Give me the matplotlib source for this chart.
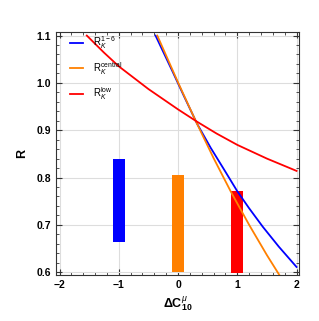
import matplotlib
matplotlib.use("Agg")
import matplotlib.pyplot as plt
from matplotlib.ticker import MultipleLocator

plt.rcParams['font.family'] = ['Liberation Sans', 'DejaVu Sans']
plt.rcParams['mathtext.fontset'] = 'custom'
plt.rcParams['mathtext.rm'] = 'Liberation Sans'
plt.rcParams['mathtext.it'] = 'Liberation Sans:italic'
plt.rcParams['mathtext.bf'] = 'Liberation Sans:bold'

# curve samples
blue_x = [-0.38, -0.1, 0.1, 0.32, 0.55, 0.786, 1.0, 1.2, 1.43, 1.7, 2.0]
blue_y = [1.100, 1.026, 0.972, 0.914, 0.863, 0.815, 0.771, 0.735, 0.696, 0.654, 0.611]
orange_x = [-0.35, 0.0, 0.3, 0.6, 0.9, 1.2, 1.5, 1.71]
orange_y = [1.100, 1.001, 0.919, 0.841, 0.768, 0.700, 0.636, 0.594]
red_x = [-1.54, -1.25, -1.0, -0.5, 0.0, 0.32, 0.65, 1.0, 1.5, 2.0]
red_y = [1.100, 1.064, 1.035, 0.987, 0.944, 0.918, 0.893, 0.869, 0.840, 0.814]

# bars
bar_x = [-1.0, 0.0, 1.0]
bar_low = [0.663, 0.600, 0.598]
bar_high = [0.840, 0.806, 0.771]

c_blue = '#0000ff'
c_orange = '#ff8000'
c_red = '#ff0000'
bar_colors = [c_blue, c_orange, c_red]

fig = plt.figure(figsize=(3.19, 3.21), dpi=100)
ax = fig.add_axes([0.1755, 0.1433, 0.937 - 0.1755, 0.901 - 0.1433])

ax.grid(True, color='#dddddd', lw=0.8, zorder=0)
ax.set_axisbelow(True)

for x, lo, hi, c in zip(bar_x, bar_low, bar_high, bar_colors):
    ax.bar(x, hi - lo, bottom=lo, width=0.2, color=c, zorder=2)

ax.plot(blue_x, blue_y, color=c_blue, lw=1.3, label=r'$\mathrm{R}_K^{1-6}$', zorder=3)
ax.plot(orange_x, orange_y, color=c_orange, lw=1.3, label=r'$\mathrm{R}_K^{\mathrm{central}}$', zorder=3)
ax.plot(red_x, red_y, color=c_red, lw=1.3, label=r'$\mathrm{R}_K^{\mathrm{low}}$', zorder=3)

ax.set_xlim(-2.06, 2.04)
ax.set_ylim(0.594, 1.108)
ax.set_xticks([-2, -1, 0, 1, 2])
ax.set_xticklabels(['\u22122', '\u22121', '0', '1', '2'])
ax.xaxis.set_minor_locator(MultipleLocator(0.2))
ax.yaxis.set_major_locator(MultipleLocator(0.1))
ax.yaxis.set_minor_locator(MultipleLocator(0.02))
ax.tick_params(which='both', direction='in', top=True, right=True, color='#333333')
ax.tick_params(which='major', length=4, width=0.8, labelsize=7.5)
ax.tick_params(which='minor', length=2, width=0.6)
for lab in ax.get_xticklabels() + ax.get_yticklabels():
    lab.set_fontweight('bold')
for s in ax.spines.values():
    s.set_color('#333333')
    s.set_linewidth(0.8)

ax.set_ylabel('R', fontsize=9, fontweight='bold', labelpad=6)
ax.set_xlabel(r'$\mathbf{\Delta C}_{\mathbf{10}}^{\mu}$', fontsize=9, labelpad=4)

leg = ax.legend(loc='upper left', frameon=False, fontsize=7, handlelength=1.4,
                labelspacing=0.9, handletextpad=1.0, bbox_to_anchor=(0.02, 1.025))

fig.savefig('out.png', dpi=100)
